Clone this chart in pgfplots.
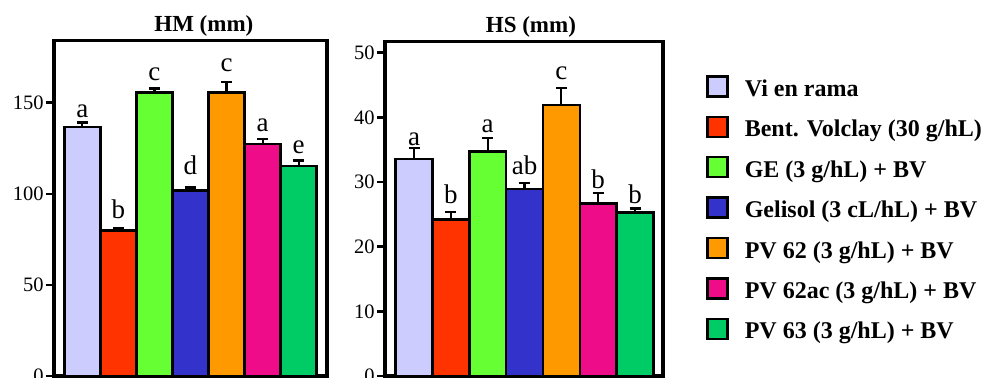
\documentclass[border=0pt]{standalone}
\usepackage{fontspec}
\setmainfont{Liberation Serif}
\usepackage{pgfplots}
\pgfplotsset{compat=1.18}

\definecolor{cLav}{RGB}{204,204,255}
\definecolor{cRed}{RGB}{255,51,0}
\definecolor{cLime}{RGB}{102,255,51}
\definecolor{cBlue}{RGB}{51,51,204}
\definecolor{cOrange}{RGB}{255,153,0}
\definecolor{cPink}{RGB}{238,12,136}
\definecolor{cGreen}{RGB}{0,204,102}

\tikzset{lbl/.style={font=\fontsize{13.5}{15}\selectfont, anchor=base, inner sep=0pt}}

\pgfplotsset{
  every axis title shift=0pt,
  panel/.style={
    scale only axis,
    ymin=0, xtick=\empty,
    axis line style={line width=1.6pt},
    ytick pos=left, tick align=outside, major tick length=4pt,
    ytick style={line width=1.2pt, black},
    yticklabel style={font=\fontsize{10.25}{12}\selectfont, inner sep=1pt},
    /pgf/number format/assume math mode=true,
    title style={font=\fontsize{11.5}{13}\selectfont\bfseries, anchor=base, inner sep=0pt},
    clip=false,
    every axis plot/.append style={
      ybar, bar width=1, bar shift=0pt, draw=black, line width=1.2pt,
      legend image code/.code={\draw[##1, line width=1.2pt] (0pt,-3.8pt) rectangle (10pt,6.2pt);},
      error bars/y dir=plus, error bars/y explicit,
      error bars/error bar style={line width=1.1pt, black},
      error bars/error mark options={rotate=90, mark size=2.75pt, line width=1.1pt, black},
    },
  },
}

\begin{document}
\begin{tikzpicture}
% HM panel
\begin{axis}[panel, at={(27pt,1pt)}, anchor=south west,
  width=136.5pt, height=167.85pt,
  xmin=0.214, xmax=7.786, ymax=184.2,
  ytick={0,50,100,150},
  title={HM (mm)}, title style={at={(0.549,1)}, yshift=4.3pt}]
\addplot[fill=cLav]    coordinates {(1,136.5) +- (0,2.6)};
\addplot[fill=cRed]    coordinates {(2,79.8)  +- (0,1.1)};
\addplot[fill=cLime]   coordinates {(3,155.5) +- (0,2.2)};
\addplot[fill=cBlue]   coordinates {(4,101.8) +- (0,1.6)};
\addplot[fill=cOrange] coordinates {(5,155.5) +- (0,5.9)};
\addplot[fill=cPink]   coordinates {(6,127.3) +- (0,2.8)};
\addplot[fill=cGreen]  coordinates {(7,115.3) +- (0,2.9)};
\node[lbl] at (axis cs:1,141.8) {a};
\node[lbl] at (axis cs:2,86.3)  {b};
\node[lbl] at (axis cs:3,162.2) {c};
\node[lbl] at (axis cs:4,110.7) {d};
\node[lbl] at (axis cs:5,166.8) {c};
\node[lbl] at (axis cs:6,134.3) {a};
\node[lbl] at (axis cs:7,122.3) {e};
\end{axis}
% HS panel
\begin{axis}[panel, at={(192.5pt,1pt)}, anchor=south west,
  width=139pt, height=167.15pt,
  xmin=0.21, xmax=7.76, ymax=51.7,
  ytick={0,10,20,30,40,50},
  title={HS (mm)}, title style={at={(0.525,1)}, yshift=4.7pt},
  legend cell align=left,
  legend style={at={(1.1547,0.9007)}, anchor=north west, draw=none, fill=none,
    inner sep=0pt, row sep=6.6pt,
    font=\fontsize{12}{14}\selectfont\bfseries,
    nodes={inner sep=0pt, text height=10.6pt, text depth=3pt},
    /tikz/every odd column/.append style={column sep=8pt}}]
\addplot[fill=cLav]    coordinates {(1,33.6) +- (0,1.6)};
\addplot[fill=cRed]    coordinates {(2,24.2) +- (0,1.1)};
\addplot[fill=cLime]   coordinates {(3,34.7) +- (0,2.1)};
\addplot[fill=cBlue]   coordinates {(4,28.9) +- (0,0.9)};
\addplot[fill=cOrange] coordinates {(5,41.9) +- (0,2.6)};
\addplot[fill=cPink]   coordinates {(6,26.7) +- (0,1.6)};
\addplot[fill=cGreen]  coordinates {(7,25.3) +- (0,0.6)};
\legend{Vi en rama, Bent. Volclay (30 g/hL), GE (3 g/hL) + BV,
  Gelisol (3 cL/hL) + BV, PV 62 (3 g/hL) + BV, PV 62ac (3 g/hL) + BV,
  PV 63 (3 g/hL) + BV}
\node[lbl] at (axis cs:1,35.7) {a};
\node[lbl] at (axis cs:2,26.75) {b};
\node[lbl] at (axis cs:3,37.7) {a};
\node[lbl] at (axis cs:4,31.2) {ab};
\node[lbl] at (axis cs:5,45.9) {c};
\node[lbl] at (axis cs:6,29.0) {b};
\node[lbl] at (axis cs:7,26.75) {b};
\end{axis}
\pgfresetboundingbox
\path[use as bounding box] (0,0) rectangle (493pt,189pt);
\end{tikzpicture}
\end{document}
